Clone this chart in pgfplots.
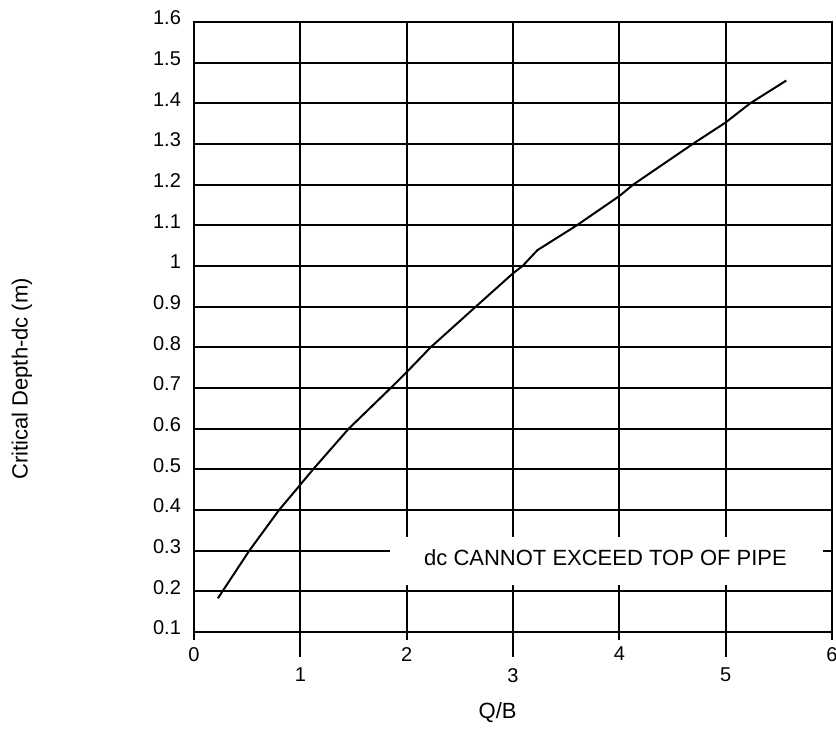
\documentclass[border=0pt]{standalone}
\usepackage{pgfplots}
\pgfplotsset{compat=1.18}
\usepackage{fontspec}
\setmainfont{Liberation Sans}

\begin{document}
\begin{tikzpicture}
\begin{axis}[
  at={(97pt,49pt)}, anchor=south west,
  scale only axis, width=319pt, height=305pt,
  xmin=0, xmax=6, ymin=0.1, ymax=1.6,
  xtick={0,2,4,6},
  xticklabels={0,2,4,6},
  ytick={0.1,0.2,0.3,0.4,0.5,0.6,0.7,0.8,0.9,1.0,1.1,1.2,1.3,1.4,1.5,1.6},
  yticklabels={0.1,0.2,0.3,0.4,0.5,0.6,0.7,0.8,0.9,1,1.1,1.2,1.3,1.4,1.5,1.6},
  extra x ticks={1,3,5},
  extra x tick labels={1,3,5},
  extra x tick style={grid=major, major tick length=12.5pt, xticklabel style={yshift=-2pt}},
  grid=major,
  grid style={black, line width=0.9pt},
  axis line style={black, line width=1pt},
  tick align=outside,
  xtick pos=bottom, ytick pos=left,
  major tick length=4pt,
  xtick style={black, line width=0.9pt},
  ytick style={draw=none},
  tick label style={font=\fontsize{10}{12}\selectfont, text=black},
  yticklabel style={yshift=2pt, xshift=1pt},
  /pgf/number format/assume math mode=true,
  xlabel={Q/B},
  ylabel={Critical Depth-dc (m)},
  label style={font=\fontsize{11}{13}\selectfont},
  xlabel style={at={(rel axis cs:0.476,0)}, anchor=center, yshift=-40.5pt},
  ylabel style={at={(rel axis cs:0,0.415)}, anchor=center, rotate=0, yshift=86pt},
]
\fill[white] (axis cs:1.84,0.216) rectangle (axis cs:5.92,0.333);
\node[font=\fontsize{11}{13}\selectfont] at (axis cs:3.87,0.284) {dc CANNOT EXCEED TOP OF PIPE};
\addplot[black, line width=1pt] coordinates {
(0.225,0.183) (0.52,0.30) (0.80,0.40) (0.98,0.456) (1.12,0.50) (1.455,0.60)
(1.85,0.70) (2.0,0.739) (2.225,0.80) (2.65,0.90) (3.0,0.982) (3.09,1.00)
(3.23,1.039) (3.6,1.10) (4.0,1.172) (4.13,1.20) (4.69,1.30) (5.0,1.353)
(5.23,1.40) (5.57,1.456)
};
\end{axis}
\pgfresetboundingbox
\useasboundingbox (0,0) rectangle (418pt,365pt);
\end{tikzpicture}
\end{document}
